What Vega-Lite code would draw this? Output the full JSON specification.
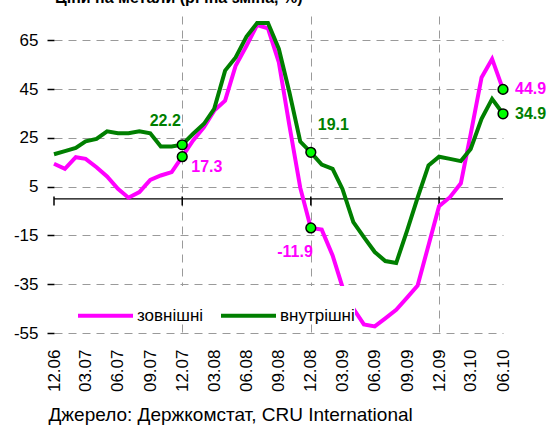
{
  "$schema": "https://vega.github.io/schema/vega-lite/v6.json",
  "width": 449,
  "height": 317,
  "autosize": {"type": "none"},
  "padding": {"left": 54, "top": 16, "right": 49, "bottom": 92},
  "background": "white",
  "title": {
    "text": "Ціни на метали (річна зміна, %)",
    "anchor": "start",
    "frame": "group",
    "font": "Liberation Sans",
    "fontSize": 16,
    "fontWeight": "bold",
    "color": "black",
    "baseline": "alphabetic",
    "offset": -4,
    "dx": 1
  },
  "config": {
    "view": {"stroke": null},
    "locale": {"number": {"decimal": ".", "thousands": ",", "grouping": [3], "currency": ["$", ""], "minus": "-"}},
    "font": "Liberation Sans"
  },
  "datasets": {
    "series": [
      {"date": "2006-12-01", "series": "зовнішні", "value": 14.4},
      {"date": "2007-01-01", "series": "зовнішні", "value": 12.3},
      {"date": "2007-02-01", "series": "зовнішні", "value": 17.1},
      {"date": "2007-03-01", "series": "зовнішні", "value": 16.4},
      {"date": "2007-04-01", "series": "зовнішні", "value": 13.0},
      {"date": "2007-05-01", "series": "зовнішні", "value": 9.2},
      {"date": "2007-06-01", "series": "зовнішні", "value": 4.1},
      {"date": "2007-07-01", "series": "зовнішні", "value": 0.5},
      {"date": "2007-08-01", "series": "зовнішні", "value": 2.8},
      {"date": "2007-09-01", "series": "зовнішні", "value": 7.8},
      {"date": "2007-10-01", "series": "зовнішні", "value": 9.6},
      {"date": "2007-11-01", "series": "зовнішні", "value": 11.0},
      {"date": "2007-12-01", "series": "зовнішні", "value": 17.3},
      {"date": "2008-01-01", "series": "зовнішні", "value": 24.0},
      {"date": "2008-02-01", "series": "зовнішні", "value": 29.4},
      {"date": "2008-03-01", "series": "зовнішні", "value": 36.2},
      {"date": "2008-04-01", "series": "зовнішні", "value": 40.3},
      {"date": "2008-05-01", "series": "зовнішні", "value": 54.6},
      {"date": "2008-06-01", "series": "зовнішні", "value": 62.8},
      {"date": "2008-07-01", "series": "зовнішні", "value": 71.3},
      {"date": "2008-08-01", "series": "зовнішні", "value": 69.9},
      {"date": "2008-09-01", "series": "зовнішні", "value": 56.0},
      {"date": "2008-10-01", "series": "зовнішні", "value": 30.1},
      {"date": "2008-11-01", "series": "зовнішні", "value": 4.5},
      {"date": "2008-12-01", "series": "зовнішні", "value": -11.9},
      {"date": "2009-01-01", "series": "зовнішні", "value": -12.6},
      {"date": "2009-02-01", "series": "зовнішні", "value": -23.2},
      {"date": "2009-03-01", "series": "зовнішні", "value": -36.1},
      {"date": "2009-04-01", "series": "зовнішні", "value": -45.0},
      {"date": "2009-05-01", "series": "зовнішні", "value": -51.5},
      {"date": "2009-06-01", "series": "зовнішні", "value": -52.3},
      {"date": "2009-07-01", "series": "зовнішні", "value": -49.0},
      {"date": "2009-08-01", "series": "зовнішні", "value": -45.5},
      {"date": "2009-09-01", "series": "зовнішні", "value": -40.5},
      {"date": "2009-10-01", "series": "зовнішні", "value": -35.5},
      {"date": "2009-11-01", "series": "зовнішні", "value": -19.0},
      {"date": "2009-12-01", "series": "зовнішні", "value": -3.0},
      {"date": "2010-01-01", "series": "зовнішні", "value": 0.7},
      {"date": "2010-02-01", "series": "зовнішні", "value": 6.4},
      {"date": "2010-03-01", "series": "зовнішні", "value": 26.6},
      {"date": "2010-04-01", "series": "зовнішні", "value": 49.8},
      {"date": "2010-05-01", "series": "зовнішні", "value": 57.4},
      {"date": "2010-06-01", "series": "зовнішні", "value": 44.9},
      {"date": "2006-12-01", "series": "внутрішні", "value": 18.3},
      {"date": "2007-01-01", "series": "внутрішні", "value": 19.6},
      {"date": "2007-02-01", "series": "внутрішні", "value": 20.9},
      {"date": "2007-03-01", "series": "внутрішні", "value": 23.6},
      {"date": "2007-04-01", "series": "внутрішні", "value": 24.6},
      {"date": "2007-05-01", "series": "внутрішні", "value": 27.7},
      {"date": "2007-06-01", "series": "внутрішні", "value": 26.9},
      {"date": "2007-07-01", "series": "внутрішні", "value": 26.9},
      {"date": "2007-08-01", "series": "внутрішні", "value": 27.7},
      {"date": "2007-09-01", "series": "внутрішні", "value": 26.9},
      {"date": "2007-10-01", "series": "внутрішні", "value": 21.5},
      {"date": "2007-11-01", "series": "внутрішні", "value": 21.5},
      {"date": "2007-12-01", "series": "внутрішні", "value": 22.2},
      {"date": "2008-01-01", "series": "внутрішні", "value": 26.7},
      {"date": "2008-02-01", "series": "внутрішні", "value": 30.8},
      {"date": "2008-03-01", "series": "внутрішні", "value": 36.9},
      {"date": "2008-04-01", "series": "внутрішні", "value": 52.6},
      {"date": "2008-05-01", "series": "внутрішні", "value": 58.0},
      {"date": "2008-06-01", "series": "внутрішні", "value": 66.6},
      {"date": "2008-07-01", "series": "внутрішні", "value": 72.1},
      {"date": "2008-08-01", "series": "внутрішні", "value": 72.1},
      {"date": "2008-09-01", "series": "внутрішні", "value": 61.5},
      {"date": "2008-10-01", "series": "внутрішні", "value": 43.7},
      {"date": "2008-11-01", "series": "внутрішні", "value": 23.5},
      {"date": "2008-12-01", "series": "внутрішні", "value": 19.1},
      {"date": "2009-01-01", "series": "внутрішні", "value": 14.1},
      {"date": "2009-02-01", "series": "внутрішні", "value": 12.3},
      {"date": "2009-03-01", "series": "внутрішні", "value": 4.1},
      {"date": "2009-04-01", "series": "внутрішні", "value": -9.5},
      {"date": "2009-05-01", "series": "внутрішні", "value": -15.7},
      {"date": "2009-06-01", "series": "внутрішні", "value": -21.8},
      {"date": "2009-07-01", "series": "внутрішні", "value": -25.5},
      {"date": "2009-08-01", "series": "внутрішні", "value": -26.3},
      {"date": "2009-09-01", "series": "внутрішні", "value": -13.0},
      {"date": "2009-10-01", "series": "внутрішні", "value": 0.5},
      {"date": "2009-11-01", "series": "внутрішні", "value": 13.7},
      {"date": "2009-12-01", "series": "внутрішні", "value": 17.3},
      {"date": "2010-01-01", "series": "внутрішні", "value": 16.4},
      {"date": "2010-02-01", "series": "внутрішні", "value": 15.5},
      {"date": "2010-03-01", "series": "внутрішні", "value": 20.5},
      {"date": "2010-04-01", "series": "внутрішні", "value": 32.8},
      {"date": "2010-05-01", "series": "внутрішні", "value": 41.0},
      {"date": "2010-06-01", "series": "внутрішні", "value": 34.9}
    ],
    "callouts": [
      {"date": "2007-12-01", "series": "внутрішні", "value": 22.2, "label": "22.2"},
      {"date": "2007-12-01", "series": "зовнішні", "value": 17.3, "label": "17.3"},
      {"date": "2008-12-01", "series": "внутрішні", "value": 19.1, "label": "19.1"},
      {"date": "2008-12-01", "series": "зовнішні", "value": -11.9, "label": "-11.9"},
      {"date": "2010-06-01", "series": "зовнішні", "value": 44.9, "label": "44.9"},
      {"date": "2010-06-01", "series": "внутрішні", "value": 34.9, "label": "34.9"}
    ],
    "zero": [
      {"date": "2006-12-01", "value": 0},
      {"date": "2010-06-01", "value": 0}
    ],
    "yearTicks": [
      {"date": "2006-12-01", "value": 0},
      {"date": "2007-12-01", "value": 0},
      {"date": "2008-12-01", "value": 0},
      {"date": "2009-12-01", "value": 0}
    ],
    "axisLine": [
      {"date": "2006-12-01"}
    ]
  },
  "encoding": {
    "x": {
      "field": "date",
      "type": "temporal",
      "scale": {
        "type": "utc",
        "domain": [
          {"year": 2006, "month": 12, "date": 1, "utc": true},
          {"year": 2010, "month": 6, "date": 1, "utc": true}
        ]
      },
      "axis": {
        "orient": "bottom",
        "values": [
          {"year": 2006, "month": 12, "date": 1, "utc": true},
          {"year": 2007, "month": 3, "date": 1, "utc": true},
          {"year": 2007, "month": 6, "date": 1, "utc": true},
          {"year": 2007, "month": 9, "date": 1, "utc": true},
          {"year": 2007, "month": 12, "date": 1, "utc": true},
          {"year": 2008, "month": 3, "date": 1, "utc": true},
          {"year": 2008, "month": 6, "date": 1, "utc": true},
          {"year": 2008, "month": 9, "date": 1, "utc": true},
          {"year": 2008, "month": 12, "date": 1, "utc": true},
          {"year": 2009, "month": 3, "date": 1, "utc": true},
          {"year": 2009, "month": 6, "date": 1, "utc": true},
          {"year": 2009, "month": 9, "date": 1, "utc": true},
          {"year": 2009, "month": 12, "date": 1, "utc": true},
          {"year": 2010, "month": 3, "date": 1, "utc": true},
          {"year": 2010, "month": 6, "date": 1, "utc": true}
        ],
        "labelExpr": "utcFormat(datum.value, '%m.%y')",
        "labelAngle": -90,
        "labelAlign": "right",
        "labelBaseline": "middle",
        "labelFont": "Liberation Sans",
        "labelFontSize": 17,
        "labelColor": "black",
        "labelPadding": 16,
        "labelOverlap": false,
        "labelFlush": false,
        "ticks": false,
        "tickSize": 0,
        "domain": false,
        "grid": true,
        "gridColor": "#9a9a9a",
        "gridDash": [8, 6],
        "gridOpacity": {"condition": {"test": "utcmonth(datum.value) === 11 && utcyear(datum.value) > 2006", "value": 1}, "value": 0},
        "title": "Джерело: Держкомстат, CRU International",
        "titleFont": "Liberation Sans",
        "titleFontSize": 19,
        "titleFontWeight": "normal",
        "titleColor": "black",
        "titleAlign": "left",
        "titleBaseline": "alphabetic",
        "titleX": -6,
        "titleY": 87
      }
    },
    "y": {
      "field": "value",
      "type": "quantitative",
      "scale": {"domain": [-55, 75], "nice": false, "zero": false},
      "axis": {
        "values": [-55, -35, -15, 5, 25, 45, 65],
        "labelFont": "Liberation Sans",
        "labelFontSize": 17,
        "labelColor": "black",
        "labelPadding": 9,
        "domain": false,
        "ticks": true,
        "tickSize": 7,
        "tickWidth": 1.5,
        "tickColor": "black",
        "grid": true,
        "gridColor": "#9a9a9a",
        "gridDash": [8, 6],
        "title": null
      }
    }
  },
  "layer": [
    {
      "data": {"name": "zero"},
      "mark": {"type": "line", "color": "black", "strokeWidth": 1.2}
    },
    {
      "data": {"name": "yearTicks"},
      "mark": {"type": "tick", "orient": "vertical", "color": "black", "thickness": 1.5, "size": 9, "opacity": 1, "yOffset": 2}
    },
    {
      "data": {"name": "axisLine"},
      "mark": {"type": "tick", "orient": "vertical", "color": "black", "thickness": 1.5, "size": 317, "opacity": 1},
      "encoding": {
        "y": {"datum": 10}
      }
    },
    {
      "data": {"name": "series"},
      "mark": {"type": "line", "strokeWidth": 4, "clip": false},
      "encoding": {
        "color": {
          "field": "series",
          "type": "nominal",
          "scale": {"domain": ["зовнішні", "внутрішні"], "range": ["#ff00ff", "#007f00"]},
          "legend": {
            "title": null,
            "orient": "none",
            "direction": "horizontal",
            "legendX": 22,
            "legendY": 270,
            "fillColor": "white",
            "padding": 0,
            "symbolType": "stroke",
            "symbolStrokeWidth": 4,
            "symbolSize": 3025,
            "labelFont": "Liberation Sans",
            "labelFontSize": 17,
            "labelColor": "black",
            "labelOffset": 2,
            "columnPadding": 9
          }
        }
      }
    },
    {
      "data": {"name": "callouts"},
      "mark": {"type": "point", "filled": true, "fill": "#00ff00", "stroke": "black", "strokeWidth": 1.5, "size": 95, "opacity": 1}
    },
    {
      "data": {"name": "callouts"},
      "transform": [{"filter": "datum.label === '22.2'"}],
      "mark": {"type": "text", "font": "Liberation Sans", "fontSize": 16, "fontWeight": "bold", "color": "#007f00", "align": "center", "baseline": "alphabetic", "dx": -17, "dy": -19},
      "encoding": {"text": {"field": "label"}}
    },
    {
      "data": {"name": "callouts"},
      "transform": [{"filter": "datum.label === '17.3'"}],
      "mark": {"type": "text", "font": "Liberation Sans", "fontSize": 16, "fontWeight": "bold", "color": "#ff00ff", "align": "left", "baseline": "alphabetic", "dx": 9, "dy": 15},
      "encoding": {"text": {"field": "label"}}
    },
    {
      "data": {"name": "callouts"},
      "transform": [{"filter": "datum.label === '19.1'"}],
      "mark": {"type": "text", "font": "Liberation Sans", "fontSize": 16, "fontWeight": "bold", "color": "#007f00", "align": "left", "baseline": "alphabetic", "dx": 7, "dy": -22},
      "encoding": {"text": {"field": "label"}}
    },
    {
      "data": {"name": "callouts"},
      "transform": [{"filter": "datum.label === '-11.9'"}],
      "mark": {"type": "text", "font": "Liberation Sans", "fontSize": 16, "fontWeight": "bold", "color": "#ff00ff", "align": "right", "baseline": "alphabetic", "dx": 2, "dy": 29},
      "encoding": {"text": {"field": "label"}}
    },
    {
      "data": {"name": "callouts"},
      "transform": [{"filter": "datum.label === '44.9'"}],
      "mark": {"type": "text", "font": "Liberation Sans", "fontSize": 16, "fontWeight": "bold", "color": "#ff00ff", "align": "left", "baseline": "middle", "dx": 12, "dy": 0},
      "encoding": {"text": {"field": "label"}}
    },
    {
      "data": {"name": "callouts"},
      "transform": [{"filter": "datum.label === '34.9'"}],
      "mark": {"type": "text", "font": "Liberation Sans", "fontSize": 16, "fontWeight": "bold", "color": "#007f00", "align": "left", "baseline": "middle", "dx": 12, "dy": 0},
      "encoding": {"text": {"field": "label"}}
    }
  ]
}
